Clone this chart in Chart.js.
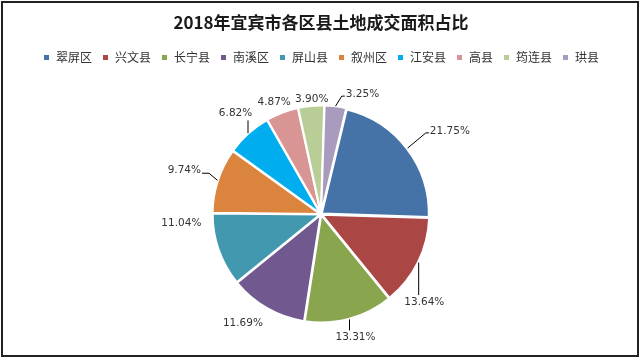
<!DOCTYPE html>
<html>
<head>
<meta charset="utf-8">
<script src="https://cdn.jsdelivr.net/npm/chart.js@4/dist/chart.umd.min.js"></script>
<style>
  html, body { margin: 0; padding: 0; background: #fff; }
  #wrap { width: 640px; height: 358px; }
</style>
</head>
<body>
<div id="wrap"><canvas id="pieChart" width="640" height="358"></canvas></div>
<script>
/* ================================
   Data
================================ */
const titleText = "2018年宜宾市各区县土地成交面积占比";
const districts = ["翠屏区", "兴文县", "长宁县", "南溪区", "屏山县", "叙州区", "江安县", "高县", "筠连县", "珙县"];
const shares = [21.75, 13.64, 13.31, 11.69, 11.04, 9.74, 6.82, 4.87, 3.90, 3.25];

/* ================================
   Style
================================ */
const sliceColors = ["#4572A7", "#AA4643", "#89A54E", "#71588F", "#4198AF",
    "#DB843D", "#00AEEF", "#D89593", "#B9CD96", "#A99BBD"];
// label placement, roughly like Excel's "best fit"
const labelGap = [31, 15, 14, 17, 13, 21, 15, 7, 2, 13];
const labelTurn = [2, 17, 1, 3, 15, 1, 4, 0, 1, 10];
const labelLeader = [true, true, true, false, false, true, true, false, false, true];

/* ================================
   Plugins
================================ */
const frame = {
    id: "frame",
    beforeDraw(chart) {
        const ctx = chart.ctx;
        ctx.save();
        ctx.fillStyle = "#fff";
        ctx.fillRect(0, 0, chart.width, chart.height);
        ctx.restore();
    },
    afterDraw(chart) {
        const ctx = chart.ctx;
        ctx.save();
        ctx.strokeStyle = "#222";
        ctx.lineWidth = 2;
        ctx.strokeRect(2, 2, chart.width - 4, chart.height - 4);
        ctx.restore();
    }
};

const outsideLabels = {
    id: "outsideLabels",
    afterDatasetsDraw(chart) {
        const ctx = chart.ctx;
        const meta = chart.getDatasetMeta(0);
        ctx.save();
        ctx.font = '10.5px "DejaVu Sans"';
        ctx.textAlign = "center";
        ctx.textBaseline = "middle";
        ctx.lineWidth = 1;
        ctx.strokeStyle = "#000";
        ctx.fillStyle = "#333";
        meta.data.forEach(function (arc, i) {
            const p = arc.getProps(["x", "y", "startAngle", "endAngle", "outerRadius"], true);
            const mid = (p.startAngle + p.endAngle) / 2;
            const m = mid + labelTurn[i] * Math.PI / 180;
            const text = shares[i].toFixed(2) + "%";
            const w = ctx.measureText(text).width;
            const h = 12;
            const r = p.outerRadius + labelGap[i];
            const tx = p.x + Math.cos(m) * r + Math.cos(m) * w / 2;
            const cy = p.y + Math.sin(m) * r + Math.sin(m) * h / 2;
            const left = tx - w / 2, right = tx + w / 2;
            const top = cy - h / 2, bottom = cy + h / 2;

            if (labelLeader[i]) {
                const ax = p.x + Math.cos(mid) * (p.outerRadius + 2);
                const ay = p.y + Math.sin(mid) * (p.outerRadius + 2);
                ctx.beginPath();
                ctx.moveTo(ax, ay);
                if (ax >= left && ax <= right) {
                    ctx.lineTo(ax, ay < top ? top - 1 : bottom + 1);
                } else if (ax < left) {
                    ctx.lineTo(left - 4, cy + 2);
                    ctx.lineTo(left - 1, cy + 2);
                } else {
                    ctx.lineTo(right + 8, cy + 3);
                    ctx.lineTo(right + 1, cy + 3);
                }
                ctx.stroke();
            }
            ctx.fillText(text, tx, cy);
        });
        ctx.restore();
    }
};

/* ================================
   Chart
================================ */
const ctx = document.getElementById("pieChart").getContext("2d");
new Chart(ctx, {
    type: "pie",
    data: {
        labels: districts,
        datasets: [{
            data: shares,
            backgroundColor: sliceColors,
            borderColor: "#fff",
            borderWidth: 2,
            offset: 4,
        }],
    },
    options: {
        responsive: false,
        animation: false,
        rotation: 13.5,
        radius: 107,
        layout: {
            padding: { top: 0, bottom: 3, left: 2, right: 0 },
        },
        plugins: {
            title: {
                display: true,
                text: titleText,
                color: "#1a1a1a",
                font: { family: '"Noto Sans CJK SC"', size: 17, weight: "bold" },
                padding: { top: 12, bottom: 9 },
            },
            legend: {
                position: "top",
                labels: {
                    boxWidth: 7,
                    boxHeight: 7,
                    padding: 10,
                    color: "#333",
                    font: { family: '"Noto Sans CJK SC"', size: 12 },
                },
            },
            tooltip: { enabled: false },
        },
    },
    plugins: [frame, outsideLabels],
});
</script>
</body>
</html>
